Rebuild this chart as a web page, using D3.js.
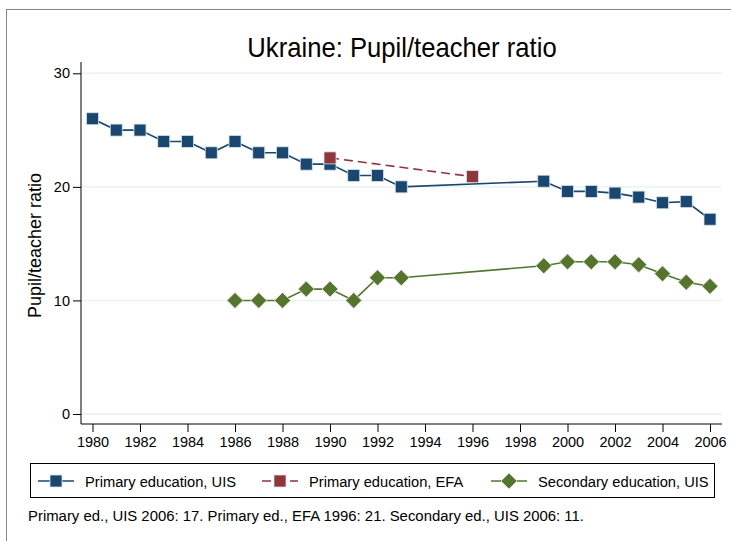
<!DOCTYPE html>
<html>
<head>
<meta charset="utf-8">
<script src="https://cdn.jsdelivr.net/npm/d3@7"></script>
<style>
  html, body { margin: 0; padding: 0; background: #fff; }
  svg { display: block; font-family: "Liberation Sans", Arial, sans-serif; }
</style>
</head>
<body>
<svg id="chart" width="731" height="541"></svg>
<script>
const title = "Ukraine: Pupil/teacher ratio";
const yLabel = "Pupil/teacher ratio";
const note = "Primary ed., UIS 2006: 17. Primary ed., EFA 1996: 21. Secondary ed., UIS 2006: 11.";

const xTicks = [1980,1982,1984,1986,1988,1990,1992,1994,1996,1998,2000,2002,2004,2006];
const yTicks = [0,10,20,30];

const primaryUisYears = [1980,1981,1982,1983,1984,1985,1986,1987,1988,1989,1990,1991,1992,1993,1999,2000,2001,2002,2003,2004,2005,2006];
const primaryUisValues = [26,25,25,24,24,23,24,23,23,22,22,21,21,20,20.5,19.6,19.6,19.45,19.1,18.6,18.7,17.15];

const primaryEfaYears = [1990,1996];
const primaryEfaValues = [22.55,20.9];

const secondaryUisYears = [1986,1987,1988,1989,1990,1991,1992,1993,1999,2000,2001,2002,2003,2004,2005,2006];
const secondaryUisValues = [10,10,10,11,11,10,12,12,13.05,13.4,13.4,13.4,13.15,12.35,11.6,11.25];

const seriesNames = ["Primary education, UIS","Primary education, EFA","Secondary education, UIS"];
const seriesColors = ["#1a476f","#90353b","#55752f"];

const svg = d3.select("#chart");

// outer frame
svg.append("rect").attr("x",6.5).attr("y",9.5).attr("width",760).attr("height",560)
  .attr("fill","none").attr("stroke","#888").attr("stroke-width",1);

const x = d3.scaleLinear().domain([1980,2006]).range([92.5,710]);
const y = d3.scaleLinear().domain([0,30]).range([414,73.3]);
const plotLeft = 81, plotRight = 722, plotTop = 62, plotBottom = 424;

// gridlines
svg.append("g").selectAll("line").data(yTicks).join("line")
  .attr("x1",plotLeft).attr("x2",plotRight)
  .attr("y1",d=>y(d)).attr("y2",d=>y(d))
  .attr("stroke","#eaf2f3").attr("stroke-width",1.5);

// y axis
const yAxis = d3.axisLeft(y).tickValues(yTicks).tickSize(8).tickPadding(3).tickFormat(d3.format("d"));
const gy = svg.append("g").attr("transform",`translate(${plotLeft},0)`).call(yAxis);
gy.select(".domain").remove();
gy.append("line").attr("x1",0).attr("x2",0).attr("y1",plotTop).attr("y2",plotBottom).attr("stroke","#000");
gy.selectAll(".tick line").attr("stroke","#000");
gy.selectAll(".tick text").attr("font-size",14.5).attr("fill","#000").attr("font-family","Liberation Sans, Arial, sans-serif");

// x axis
const xAxis = d3.axisBottom(x).tickValues(xTicks).tickSize(8).tickPadding(5).tickFormat(d3.format("d"));
const gx = svg.append("g").attr("transform",`translate(0,${plotBottom})`).call(xAxis);
gx.select(".domain").remove();
gx.append("line").attr("x1",plotLeft).attr("x2",plotRight).attr("y1",0).attr("y2",0).attr("stroke","#000");
gx.selectAll(".tick line").attr("stroke","#000");
gx.selectAll(".tick text").attr("font-size",14.5).attr("fill","#000").attr("font-family","Liberation Sans, Arial, sans-serif");

// title
svg.append("text").attr("transform","translate(402,56.5) scale(0.95,1)").attr("text-anchor","middle")
  .attr("font-size",27).attr("fill","#000").text(title);

// y label
svg.append("text").attr("transform","translate(41,245.5) rotate(-90)").attr("text-anchor","middle")
  .attr("font-size",18).attr("fill","#000").text(yLabel);

const line = d3.line().x(d=>x(d[0])).y(d=>y(d[1]));
const zip = (a,b)=>a.map((v,i)=>[v,b[i]]);

const sq = 12;
function drawSquare(g, cx, cy, color){
  g.append("rect").attr("x",cx-sq/2).attr("y",cy-sq/2).attr("width",sq).attr("height",sq)
    .attr("fill",color).attr("stroke","#d8e3ea").attr("stroke-width",0.8);
}
function drawDiamond(g, cx, cy, color){
  const r = 8;
  g.append("path").attr("d",`M${cx},${cy-r}L${cx+r},${cy}L${cx},${cy+r}L${cx-r},${cy}Z`)
    .attr("fill",color).attr("stroke","#dfe8d5").attr("stroke-width",0.8);
}

// primary UIS
const p1 = zip(primaryUisYears, primaryUisValues);
svg.append("path").datum(p1).attr("d",line).attr("fill","none").attr("stroke",seriesColors[0]).attr("stroke-width",1.6);
const g1 = svg.append("g");
p1.forEach(d=>drawSquare(g1, x(d[0]), y(d[1]), seriesColors[0]));

// primary EFA
const p2 = zip(primaryEfaYears, primaryEfaValues);
svg.append("path").datum(p2).attr("d",line).attr("fill","none").attr("stroke",seriesColors[1]).attr("stroke-width",1.6).attr("stroke-dasharray","9,5");
const g2 = svg.append("g");
p2.forEach(d=>drawSquare(g2, x(d[0]), y(d[1]), seriesColors[1]));

// secondary UIS
const p3 = zip(secondaryUisYears, secondaryUisValues);
svg.append("path").datum(p3).attr("d",line).attr("fill","none").attr("stroke",seriesColors[2]).attr("stroke-width",1.6);
const g3 = svg.append("g");
p3.forEach(d=>drawDiamond(g3, x(d[0]), y(d[1]), seriesColors[2]));

// legend
svg.append("rect").attr("x",30.5).attr("y",463.5).attr("width",684).attr("height",34)
  .attr("fill","#fff").attr("stroke","#000").attr("stroke-width",1);
const legX = [38, 262, 491];
const legY = 481;
seriesNames.forEach((name,i)=>{
  const g = svg.append("g");
  const l = g.append("line").attr("x1",legX[i]).attr("x2",legX[i]+36).attr("y1",legY).attr("y2",legY)
    .attr("stroke",seriesColors[i]).attr("stroke-width",1.6);
  if (i===1) l.attr("stroke-dasharray","9,5");
  if (i===2) drawDiamond(g, legX[i]+18, legY, seriesColors[i]);
  else drawSquare(g, legX[i]+18, legY, seriesColors[i]);
  g.append("text").attr("x",legX[i]+47).attr("y",legY+5.5).attr("font-size",14.7).attr("fill","#000").text(name);
});

// note
svg.append("text").attr("x",28).attr("y",521).attr("font-size",14.9).attr("fill","#000").text(note);
</script>
</body>
</html>
